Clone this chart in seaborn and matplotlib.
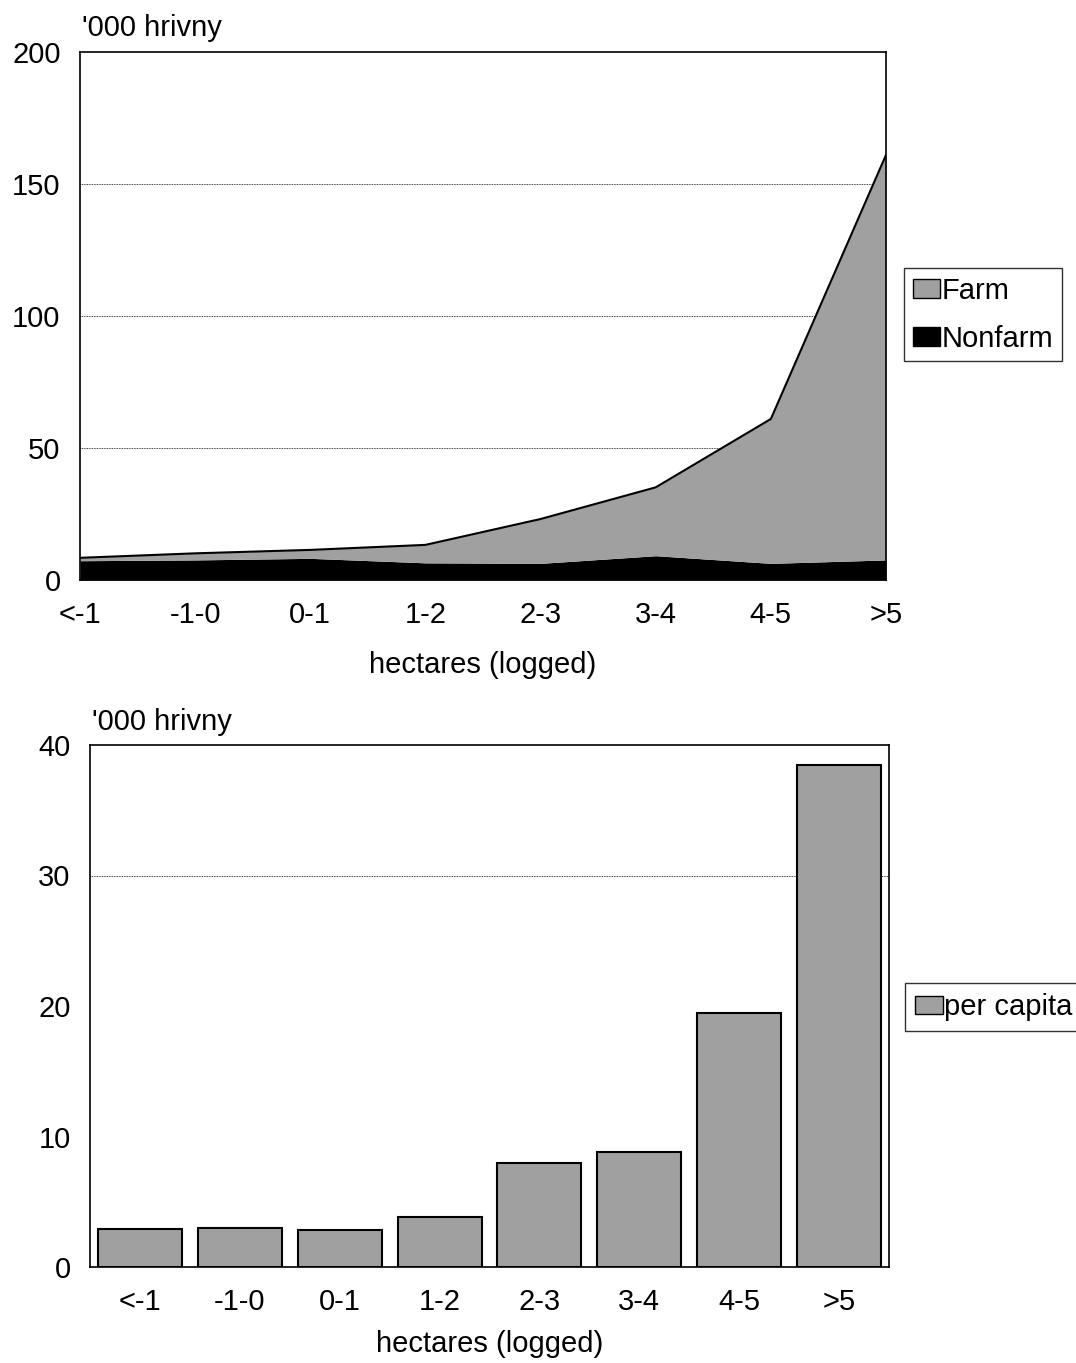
import numpy as np
import matplotlib
matplotlib.use("Agg")
import matplotlib.pyplot as plt
from matplotlib.patches import Patch
import pandas as pd
import seaborn as sns

sns.set_theme(style="white")
plt.rcParams["font.family"] = ["Liberation Sans", "DejaVu Sans"]
plt.rcParams.update({"text.color": "black", "axes.labelcolor": "black",
                     "xtick.color": "black", "ytick.color": "black"})

# data
categories = ["<-1", "-1-0", "0-1", "1-2", "2-3", "3-4", "4-5", ">5"]
nonfarm = [7.3, 7.6, 8.2, 6.5, 6.3, 9.2, 6.3, 7.6]
farm = [1.1, 2.5, 3.2, 6.8, 16.8, 25.9, 54.7, 153.4]
per_capita = [2.9, 3.0, 2.8, 3.8, 8.0, 8.8, 19.5, 38.5]

gray = "#a0a0a0"
fs = 21

fig = plt.figure(figsize=(10.76, 13.63), dpi=100)

####
# top: stacked area, farm + nonfarm income
####
ax1 = fig.add_axes([80 / 1076, 1 - 580 / 1363, 806 / 1076, 528 / 1363])
x = np.arange(len(categories))
total = np.array(nonfarm) + np.array(farm)
ax1.stackplot(x, nonfarm, farm, colors=["black", gray], linewidth=0)
sns.lineplot(x=x, y=total, ax=ax1, color="black", linewidth=1.5)
ax1.set_xlim(0, len(categories) - 1)
ax1.set_ylim(0, 200)
ax1.set_yticks([0, 50, 100, 150, 200])
ax1.set_xticks(x)
ax1.set_xticklabels(categories)
for yv in [50, 100, 150]:
    ax1.axhline(yv, color="black", linestyle=(0, (1, 1)), linewidth=0.6, zorder=0)
ax1.set_xlabel("hectares (logged)", fontsize=fs, labelpad=16)
ax1.set_ylabel("")
ax1.tick_params(axis="both", length=0, labelsize=fs)
ax1.tick_params(axis="x", pad=15)
ax1.tick_params(axis="y", pad=14)
for sp in ax1.spines.values():
    sp.set_color("black")
    sp.set_linewidth(1.2)
fig.text(82 / 1076, 1 - 28 / 1363, "'000 hrivny", fontsize=fs, va="center", ha="left")

handles = [Patch(facecolor=gray, edgecolor="black", label="Farm"),
           Patch(facecolor="black", edgecolor="black", label="Nonfarm")]
leg = ax1.legend(handles=handles, loc="upper left", bbox_to_anchor=(904 / 1076, 1 - 268 / 1363),
                 bbox_transform=fig.transFigure, borderaxespad=0, fontsize=fs,
                 handlelength=0.95, handleheight=0.6, handletextpad=0.05,
                 labelspacing=0.68, borderpad=0.3, fancybox=False, frameon=True)
leg.get_frame().set_edgecolor("black")
leg.get_frame().set_linewidth(1.0)

####
# bottom: per capita bars
####
ax2 = fig.add_axes([90 / 1076, 1 - 1267 / 1363, 799 / 1076, 522 / 1363])
df = pd.DataFrame({"hectares": categories, "value": per_capita})
sns.barplot(data=df, x="hectares", y="value", ax=ax2, color=gray, saturation=1,
            width=0.84, edgecolor="black", linewidth=1.5)
ax2.set_xlim(-0.5, len(categories) - 0.5)
ax2.set_ylim(0, 40)
ax2.set_yticks([0, 10, 20, 30, 40])
ax2.axhline(30, color="black", linestyle=(0, (1, 1)), linewidth=0.6, zorder=0)
ax2.set_xlabel("hectares (logged)", fontsize=fs, labelpad=10)
ax2.set_ylabel("")
ax2.tick_params(axis="both", length=0, labelsize=fs)
ax2.tick_params(axis="x", pad=15)
ax2.tick_params(axis="y", pad=14)
for sp in ax2.spines.values():
    sp.set_color("black")
    sp.set_linewidth(1.2)
fig.text(92 / 1076, 1 - 722 / 1363, "'000 hrivny", fontsize=fs, va="center", ha="left")

leg2 = ax2.legend(handles=[Patch(facecolor=gray, edgecolor="black", label="per capita")],
                  loc="upper left", bbox_to_anchor=(905 / 1076, 1 - 983 / 1363),
                  bbox_transform=fig.transFigure, borderaxespad=0, fontsize=fs,
                  handlelength=0.95, handleheight=0.6, handletextpad=0.05,
                  borderpad=0.35, fancybox=False, frameon=True)
leg2.get_frame().set_edgecolor("black")
leg2.get_frame().set_linewidth(1.0)

fig.savefig("out.png", dpi=100, facecolor="white")
plt.close()
